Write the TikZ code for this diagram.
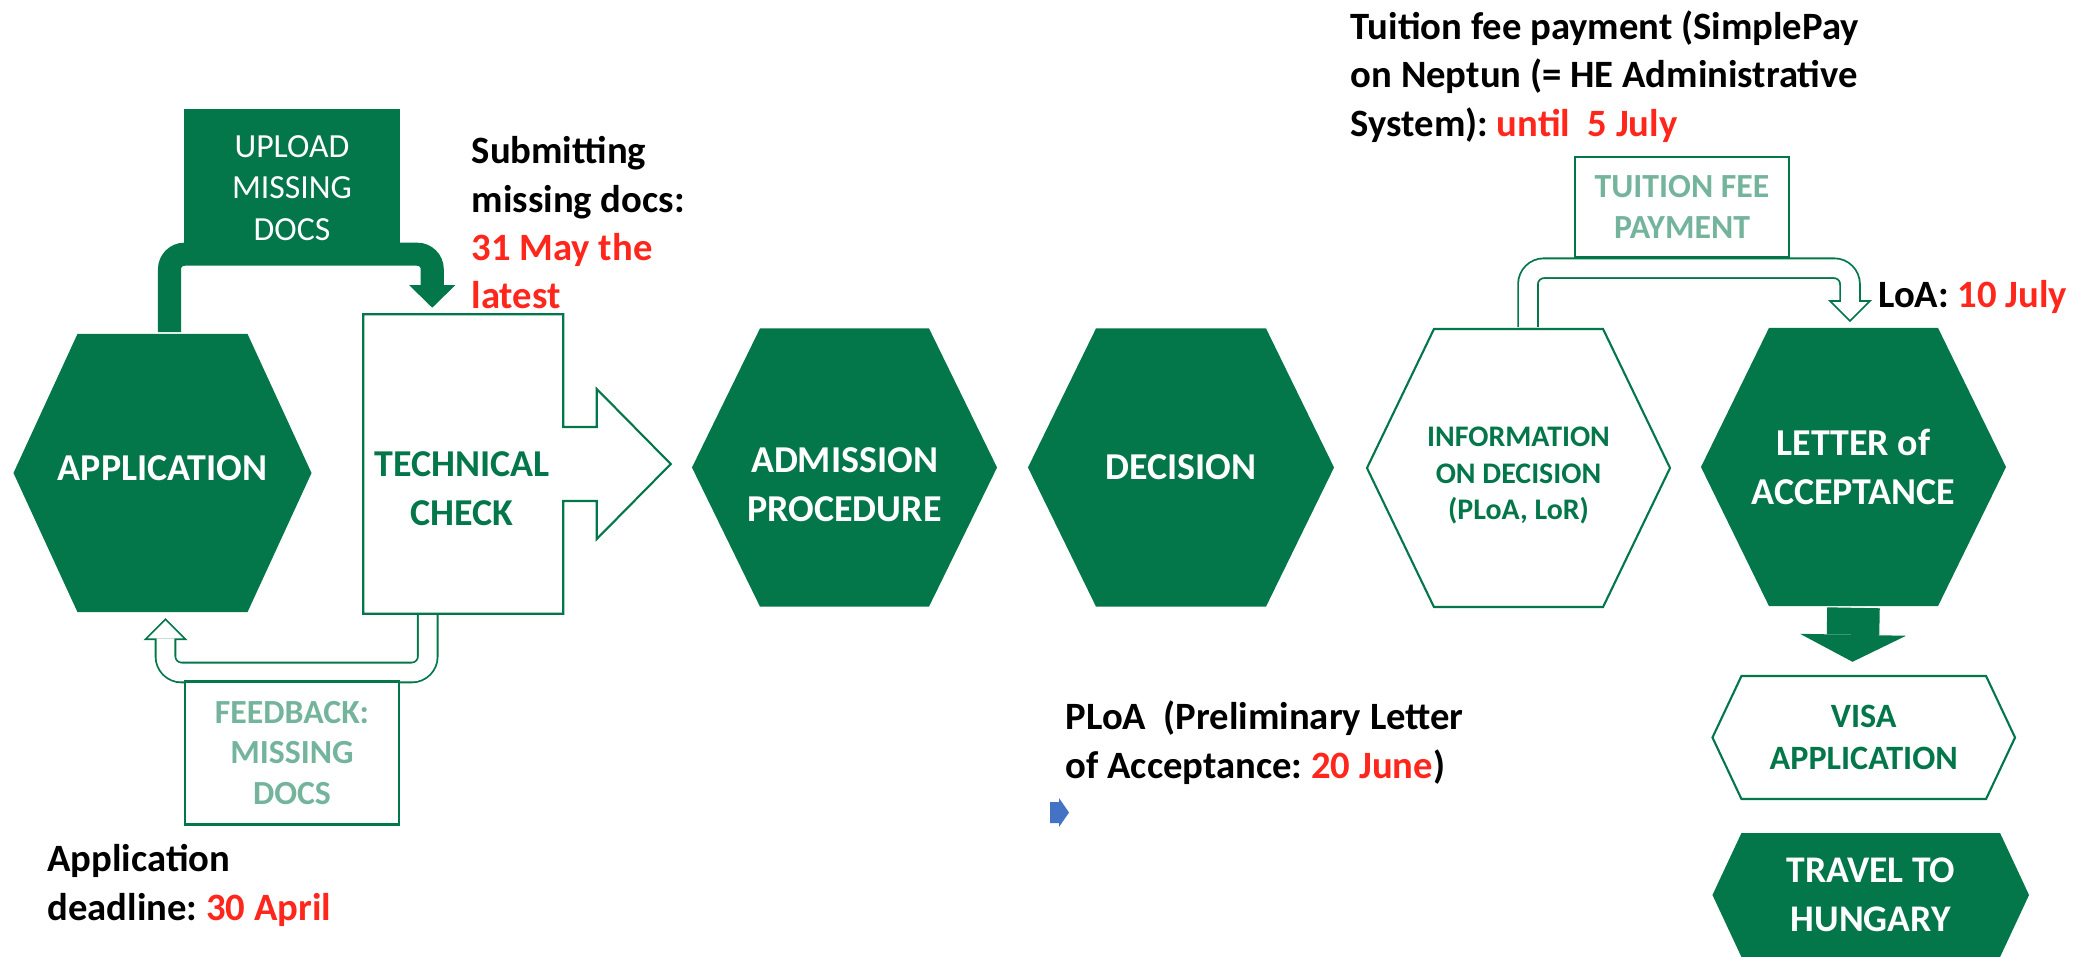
\documentclass[tikz,border=0pt]{standalone}
\usepackage{fontspec}
\setmainfont{Carlito}
\usetikzlibrary{calc,arrows.meta,backgrounds}
\frenchspacing

\definecolor{uniGreen}{HTML}{03764A}
\colorlet{hollowGreen}{uniGreen!55}
\definecolor{noteRed}{RGB}{255,38,28}
\definecolor{blipBlue}{HTML}{4472C4}

\tikzset{
    hexa/.style 2 args={rectangle, inner sep=0pt, align=center,
        path picture={\path[#1]
            ([xshift=0.3pt]path picture bounding box.west)
            -- ([xshift=#2,yshift=-0.3pt]path picture bounding box.north west)
            -- ([xshift=-#2,yshift=-0.3pt]path picture bounding box.north east)
            -- ([xshift=-0.3pt]path picture bounding box.east)
            -- ([xshift=-#2,yshift=0.3pt]path picture bounding box.south east)
            -- ([xshift=#2,yshift=0.3pt]path picture bounding box.south west)
            -- cycle;}},
    hexfill/.style={hexa={fill=uniGreen}{#1}, text=white, font=\bfseries\fontsize{10.8}{13.9}\selectfont},
    hexline/.style={hexa={fill=white, draw=uniGreen, line width=0.6pt}{#1}, text=uniGreen, font=\bfseries\fontsize{8.5}{10.4}\selectfont},
    boxfill/.style={rectangle, fill=uniGreen, inner sep=0pt, align=center, text=white, font=\fontsize{9.6}{11.7}\selectfont},
    boxline/.style={rectangle, draw=uniGreen, line width=0.6pt, fill=white, inner sep=0pt, align=center, text=hollowGreen, font=\bfseries\fontsize{9.6}{11.5}\selectfont},
    note/.style={anchor=base west, inner sep=0pt, align=left, font=\bfseries\fontsize{11}{13.7}\selectfont},
    solidconn/.style={draw=uniGreen, line width=0.23cm, rounded corners=0.15cm, -{Triangle[length=0.225cm,width=0.46cm,line width=0pt]}},
    hollowout/.style={draw=uniGreen, line width=0.215cm, rounded corners=0.16cm, -{Triangle[length=0.22cm,width=0.44cm,line width=0pt]}},
    hollowin/.style={draw=white, line width=0.179cm, rounded corners=0.16cm, shorten >=0.0255cm, -{Triangle[length=0.1765cm,width=0.353cm,line width=0pt]}}
}

\begin{document}
\begin{tikzpicture}[x=0.01cm, y=-0.01cm]
    \useasboundingbox (0,0) rectangle (2075,957);

    % main row
    \node[hexfill=0.65cm, minimum width=3cm, minimum height=2.8cm] (app) at (162.5,473) {APPLICATION\rule[-0.1cm]{0pt}{0.1cm}};
    \node[boxfill, minimum width=2.16cm, minimum height=1.36cm] (upload) at (292,177) {\rule{0pt}{0.44cm}UPLOAD\\MISSING\\DOCS};

    \node[rectangle, inner sep=0pt, minimum width=1.985cm, minimum height=2.98cm] (tech) at (463.25,464) {};
    \draw[draw=uniGreen, line width=0.6pt, fill=white] (tech.north west) -- (tech.north east)
        -- ($(tech.east)+(0,-37)$) -- ($(tech.east)+(33.5,-37)$) -- ($(tech.east)+(33.5,-75)$)
        -- ($(tech.east)+(107.5,0)$)
        -- ($(tech.east)+(33.5,75)$) -- ($(tech.east)+(33.5,37)$) -- ($(tech.east)+(0,37)$)
        -- (tech.south east) -- (tech.south west) -- cycle;
    \node[align=center, text=uniGreen, font=\bfseries\fontsize{10.8}{13.9}\selectfont] (techtext) at (462,489) {TECHNICAL\\CHECK};

    \node[hexfill=0.69cm, minimum width=3.07cm, minimum height=2.8cm] (adm) at (844.5,467.5) {\rule{0pt}{0.6cm}ADMISSION\\PROCEDURE};
    \node[hexfill=0.69cm, minimum width=3.08cm, minimum height=2.8cm] (dec) at (1181,467.5) {DECISION};
    \node[hexline=0.68cm, minimum width=3.05cm, minimum height=2.8cm] (info) at (1518.5,468) {\rule{0pt}{0.35cm}INFORMATION\\ON DECISION\\(PLoA, LoR)};
    \node[hexfill=0.69cm, minimum width=3.07cm, minimum height=2.8cm] (letter) at (1853.5,467) {LETTER of\\ACCEPTANCE};

    % right column
    \node[hexline=0.3cm, minimum width=3.045cm, minimum height=1.25cm, font=\bfseries\fontsize{9.7}{11.9}\selectfont] (visa) at (1863.75,737.5) {VISA\\APPLICATION};
    \node[hexfill=0.3cm, minimum width=3.185cm, minimum height=1.26cm, font=\bfseries\fontsize{10.7}{13.8}\selectfont] (travel) at (1870.75,895) {TRAVEL TO\\HUNGARY};

    % side boxes
    \node[boxline, minimum width=2.145cm, minimum height=1cm] (tuition) at (1682,207) {TUITION FEE\\PAYMENT};
    \node[boxline, minimum width=2.14cm, minimum height=1.43cm] (feedback) at (292,753) {FEEDBACK:\\MISSING\\DOCS};

    % notes (anchored on the last line)
    \node[note] (submitnote) at (471,308.5) {Submitting\\missing docs:\\\textcolor{noteRed}{31 May the}\\\textcolor{noteRed}{latest}};
    \node[note] (feenote) at (1350,136) {Tuition fee payment (SimplePay\\on Neptun (= HE Administrative\\System): \textcolor{noteRed}{until\ \ 5 July}};
    \node[note] (loanote) at (1877.6,307) {LoA: \textcolor{noteRed}{10 July}};
    \node[note] (ploanote) at (1065,778) {PLoA\ \ (Preliminary Letter\\of Acceptance: \textcolor{noteRed}{20 June})};
    \node[note] (deadlinenote) at (46.7,920) {Application\\deadline: \textcolor{noteRed}{30 April}};

    % small blue block arrow
    \fill[blipBlue] (1050,802) -- (1059,802) -- (1059,798) -- (1069,812.5)
        -- (1059,827) -- (1059,823) -- (1050,823) -- cycle;

    % connectors
    \begin{scope}[on background layer]
        \draw[solidconn] ($(app.north)+(7,0)$) |- ($(tech.north)+(-31,-60)$) -- ($(tech.north)+(-31,-6.5)$);

        \draw[hollowout] ($(tech.south)+(-35.5,0)$) |- ($(app.south)+(3,58.7)$) -- ($(app.south)+(3,4.3)$);
        \draw[hollowin] ($(tech.south)+(-35.5,0)$) |- ($(app.south)+(3,58.7)$) -- ($(app.south)+(3,4.3)$);

        \draw[hollowout] ($(info.north)+(9.5,0)$) |- ($(letter.north)+(-3.5,-58)$) -- ($(letter.north)+(-3.5,-4)$);
        \draw[hollowin] ($(info.north)+(9.5,0)$) |- ($(letter.north)+(-3.5,-58)$) -- ($(letter.north)+(-3.5,-4)$);

        \draw[draw=uniGreen, line width=0.525cm, -{Triangle[length=0.27cm,width=1.06cm,line width=0pt]}] (letter.south) -- ($(letter.south)+(-1,54)$);
    \end{scope}

\end{tikzpicture}
\end{document}
